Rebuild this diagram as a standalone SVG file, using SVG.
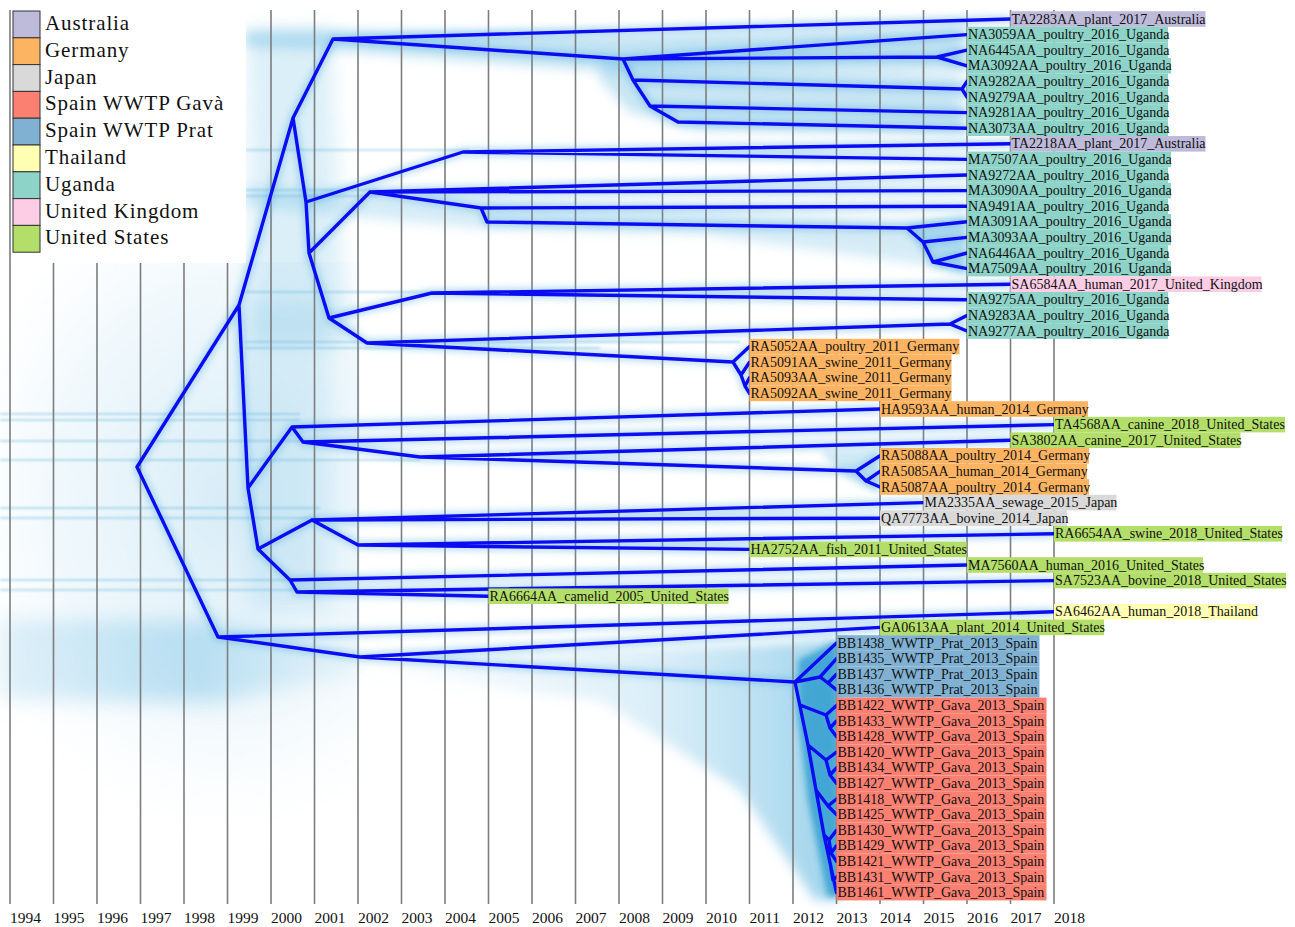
<svg xmlns="http://www.w3.org/2000/svg" xmlns:xlink="http://www.w3.org/1999/xlink" width="1295" height="927" viewBox="0 0 1295 927">
<style>
.grid{stroke:#7d7d7d;stroke-width:1.6}
.yr{font-family:"Liberation Serif","Times New Roman",serif;font-size:15.5px;fill:#111}
.lab{font-family:"Liberation Serif","Times New Roman",serif;font-size:14px;fill:#111}
.leg{font-family:"Liberation Serif","Times New Roman",serif;font-size:21px;letter-spacing:0.9px;fill:#111}
.sw{stroke:#333;stroke-width:1}
.au{fill:#bebada}.de{fill:#fdb462}.jp{fill:#d9d9d9}.gv{fill:#fb8072}.pr{fill:#80b1d3}.th{fill:#ffffb3}.ug{fill:#8dd3c7}.uk{fill:#fccde5}.us{fill:#b3de69}
.cl{fill:#74c0e4}
.st{stroke:#5cb4dc;stroke-width:2;fill:none}
</style>
<defs>
<filter id="b14" filterUnits="userSpaceOnUse" x="0" y="0" width="1295" height="927"><feGaussianBlur stdDeviation="14"/></filter>
<filter id="b10" filterUnits="userSpaceOnUse" x="0" y="0" width="1295" height="927"><feGaussianBlur stdDeviation="10"/></filter>
<filter id="b6" filterUnits="userSpaceOnUse" x="0" y="0" width="1295" height="927"><feGaussianBlur stdDeviation="6"/></filter>
<filter id="b3" filterUnits="userSpaceOnUse" x="0" y="0" width="1295" height="927"><feGaussianBlur stdDeviation="3"/></filter>
<filter id="b1" filterUnits="userSpaceOnUse" x="0" y="0" width="1295" height="927"><feGaussianBlur stdDeviation="1.2"/></filter>
<radialGradient id="lh" cx="230" cy="500" r="300" gradientUnits="userSpaceOnUse" gradientTransform="translate(230 500) scale(1 1.2) translate(-230 -500)">
<stop offset="0" stop-color="#a6d5ee" stop-opacity="0.45"/>
<stop offset="0.6" stop-color="#b8def1" stop-opacity="0.2"/>
<stop offset="1" stop-color="#ffffff" stop-opacity="0"/>
</radialGradient>
<linearGradient id="band" x1="0" y1="0" x2="1" y2="0">
<stop offset="0" stop-color="#a8d6ee" stop-opacity="0.35"/>
<stop offset="0.55" stop-color="#8ccbea" stop-opacity="0.55"/>
<stop offset="1" stop-color="#a8d6ee" stop-opacity="0.15"/>
</linearGradient>
<linearGradient id="fan" x1="0" y1="0" x2="1" y2="0">
<stop offset="0" stop-color="#9fd3ee" stop-opacity="0"/>
<stop offset="0.6" stop-color="#8ccbea" stop-opacity="0.3"/>
<stop offset="1" stop-color="#5db5df" stop-opacity="0.6"/>
</linearGradient>
</defs>
<rect width="1295" height="927" fill="#ffffff"/>

<g id="cloud">
<rect x="0" y="262" width="360" height="640" fill="url(#lh)"/>
<polygon points="0,618 218,622 360,648 360,672 218,702 0,700" fill="url(#band)" filter="url(#b10)"/>
<polygon points="360,655 560,650 760,645 838,640 838,900 815,900 740,790 600,700 360,672" fill="url(#fan)" filter="url(#b6)"/>
<polygon points="798,660 838,642 840,897 828,897 808,800 798,710" fill="#2c9bcd" opacity="0.8" filter="url(#b3)"/>
<polygon points="245,31 330,30 620,36 962,26 965,70 620,72 330,50 245,47" class="cl" opacity="0.45" filter="url(#b6)"/>
<polygon points="600,58 700,66 960,76 965,134 700,130 630,112 600,80" class="cl" opacity="0.4" filter="url(#b6)"/>
<polygon points="248,30 330,30 345,345 252,345" class="cl" opacity="0.25" filter="url(#b10)"/>
<polygon points="245,186 480,198 700,210 900,220 965,220 965,274 920,264 700,234 480,228 245,206" class="cl" opacity="0.3" filter="url(#b6)"/>
<polygon points="240,300 330,300 330,610 250,610" class="cl" opacity="0.18" filter="url(#b10)"/>
<polygon points="820,452 880,450 880,492 850,480" class="cl" opacity="0.35" filter="url(#b3)"/>
<polygon points="905,225 967,215 967,275 935,265" class="cl" opacity="0.35" filter="url(#b3)"/>
<g class="st" opacity="0.4" filter="url(#b1)">
<path d="M245,150H470M245,190H380M245,196H380M245,292H440M245,342H740M245,348H600"/>
<path d="M0,414H300M0,420H300M0,441H310M0,460H420M0,508H320M0,518H320M0,580H300M0,590H300"/>
</g>
</g>

<g id="grid">
<path class="grid" d="M10,10V904M53.5,10V904M97,10V904M140.5,10V904M184,10V904M227.5,10V904M271,10V904M314.5,10V904M358,10V904M401.5,10V904M445,10V904M488.5,10V904M532,10V904M575.5,10V904M619,10V904M662.5,10V904M706,10V904M749.5,10V904M793,10V904M836.5,10V904M880,10V904M923.5,10V904M967,10V904M1010.5,10V904M1054,10V904"/>
</g>

<use xlink:href="#tree" stroke="#4aa8e0" stroke-width="9" stroke-opacity="0.35" fill="none" filter="url(#b3)"/>

<g id="connectors" stroke="#0c0cf2" stroke-width="3.4" fill="none" stroke-linejoin="round" stroke-linecap="round">
<path id="tree" d="M137,467L239,305L293,118L333,39L1010.5,19M333,39L623,59L967,34.6M623,59L937,57L967,50.2M937,57L967,65.8M623,59L633,80L962,89L967,81.4M962,89L967,97M633,80L650,106L967,112.6M650,106L678,122L967,128.2M293,118L306,202L463,152L1010.5,143.8M463,152L967,159.4M306,202L309,253L370,192L967,175M370,192L967,190.6M370,192L481,208L967,206.2M481,208L487,222L907,228L967,221.8M907,228L923,242L967,237.4M923,242L933,262L967,253M933,262L967,268.6M309,253L329,318L432,293L1010.5,284.2M432,293L967,299.8M329,318L367,343L950,324L967,315.4M950,324L967,331M367,343L733,362L749.5,346.6M733,362L741,375L749.5,362.2M741,375L745,386L749.5,377.8M745,386L749.5,393.4M239,305L248,488L292,427L880,409M292,427L303,442L1054,424.6M303,442L420,457L1010.5,440.2M420,457L856,471L880,455.8M856,471L866,481L880,471.4M866,481L880,487M248,488L258,549L312,520L923.5,502.6M312,520L880,518.2M312,520L358,545L1054,533.8M358,545L749.5,549.4M258,549L290,580L967,565M290,580L297,592L1054,580.6M297,592L488.5,596.2M137,467L218,637L1054,611.8M218,637L360,657L880,627.4M360,657L795,682L836.5,643M795,682L820,677L836.5,658.6M820,677L828,683L836.5,674.2M828,683L836.5,689.8M795,682L808,745L816,790L824,835L836.5,892.6M800,705L826,715L836.5,705.4M826,715L830,728L836.5,721M830,728L836.5,736.6M808,745L826,760L836.5,752.2M826,760L830,775L836.5,767.8M830,775L836.5,783.4M816,790L828,806L836.5,799M828,806L836.5,814.6M824,835L829,840L836.5,830.2M829,840L831,853L836.5,845.8M831,853L836.5,861.4M831,868L833,880L836.5,877"/>
</g>

<g id="leaves">
<g id="n1"><rect class="au" x="1010.5" y="11.2" width="195" height="15.6"/><text class="lab" x="1011.5" y="23.5">TA2283AA_plant_2017_Australia</text></g>
<g id="n2"><rect class="ug" x="967" y="26.8" width="201" height="15.6"/><text class="lab" x="968" y="39.1">NA3059AA_poultry_2016_Uganda</text></g>
<g id="n3"><rect class="ug" x="967" y="42.4" width="201" height="15.6"/><text class="lab" x="968" y="54.7">NA6445AA_poultry_2016_Uganda</text></g>
<g id="n4"><rect class="ug" x="967" y="58" width="204" height="15.6"/><text class="lab" x="968" y="70.3">MA3092AA_poultry_2016_Uganda</text></g>
<g id="n5"><rect class="ug" x="967" y="73.6" width="201" height="15.6"/><text class="lab" x="968" y="85.9">NA9282AA_poultry_2016_Uganda</text></g>
<g id="n6"><rect class="ug" x="967" y="89.2" width="201" height="15.6"/><text class="lab" x="968" y="101.5">NA9279AA_poultry_2016_Uganda</text></g>
<g id="n7"><rect class="ug" x="967" y="104.8" width="201" height="15.6"/><text class="lab" x="968" y="117.1">NA9281AA_poultry_2016_Uganda</text></g>
<g id="n8"><rect class="ug" x="967" y="120.4" width="201" height="15.6"/><text class="lab" x="968" y="132.7">NA3073AA_poultry_2016_Uganda</text></g>
<g id="n9"><rect class="au" x="1010.5" y="136" width="195" height="15.6"/><text class="lab" x="1011.5" y="148.3">TA2218AA_plant_2017_Australia</text></g>
<g id="n10"><rect class="ug" x="967" y="151.6" width="204" height="15.6"/><text class="lab" x="968" y="163.9">MA7507AA_poultry_2016_Uganda</text></g>
<g id="n11"><rect class="ug" x="967" y="167.2" width="201" height="15.6"/><text class="lab" x="968" y="179.5">NA9272AA_poultry_2016_Uganda</text></g>
<g id="n12"><rect class="ug" x="967" y="182.8" width="204" height="15.6"/><text class="lab" x="968" y="195.1">MA3090AA_poultry_2016_Uganda</text></g>
<g id="n13"><rect class="ug" x="967" y="198.4" width="201" height="15.6"/><text class="lab" x="968" y="210.7">NA9491AA_poultry_2016_Uganda</text></g>
<g id="n14"><rect class="ug" x="967" y="214" width="204" height="15.6"/><text class="lab" x="968" y="226.3">MA3091AA_poultry_2016_Uganda</text></g>
<g id="n15"><rect class="ug" x="967" y="229.6" width="204" height="15.6"/><text class="lab" x="968" y="241.9">MA3093AA_poultry_2016_Uganda</text></g>
<g id="n16"><rect class="ug" x="967" y="245.2" width="201" height="15.6"/><text class="lab" x="968" y="257.5">NA6446AA_poultry_2016_Uganda</text></g>
<g id="n17"><rect class="ug" x="967" y="260.8" width="204" height="15.6"/><text class="lab" x="968" y="273.1">MA7509AA_poultry_2016_Uganda</text></g>
<g id="n18"><rect class="uk" x="1010.5" y="276.4" width="251" height="15.6"/><text class="lab" x="1011.5" y="288.7">SA6584AA_human_2017_United_Kingdom</text></g>
<g id="n19"><rect class="ug" x="967" y="292" width="201" height="15.6"/><text class="lab" x="968" y="304.3">NA9275AA_poultry_2016_Uganda</text></g>
<g id="n20"><rect class="ug" x="967" y="307.6" width="201" height="15.6"/><text class="lab" x="968" y="319.9">NA9283AA_poultry_2016_Uganda</text></g>
<g id="n21"><rect class="ug" x="967" y="323.2" width="201" height="15.6"/><text class="lab" x="968" y="335.5">NA9277AA_poultry_2016_Uganda</text></g>
<g id="n22"><rect class="de" x="749.5" y="338.8" width="210" height="15.6"/><text class="lab" x="750.5" y="351.1">RA5052AA_poultry_2011_Germany</text></g>
<g id="n23"><rect class="de" x="749.5" y="354.4" width="202" height="15.6"/><text class="lab" x="750.5" y="366.7">RA5091AA_swine_2011_Germany</text></g>
<g id="n24"><rect class="de" x="749.5" y="370" width="202" height="15.6"/><text class="lab" x="750.5" y="382.3">RA5093AA_swine_2011_Germany</text></g>
<g id="n25"><rect class="de" x="749.5" y="385.6" width="202" height="15.6"/><text class="lab" x="750.5" y="397.9">RA5092AA_swine_2011_Germany</text></g>
<g id="n26"><rect class="de" x="880" y="401.2" width="208" height="15.6"/><text class="lab" x="881" y="413.5">HA9593AA_human_2014_Germany</text></g>
<g id="n27"><rect class="us" x="1054" y="416.8" width="231" height="15.6"/><text class="lab" x="1055" y="429.1">TA4568AA_canine_2018_United_States</text></g>
<g id="n28"><rect class="us" x="1010.5" y="432.4" width="230" height="15.6"/><text class="lab" x="1011.5" y="444.7">SA3802AA_canine_2017_United_States</text></g>
<g id="n29"><rect class="de" x="880" y="448" width="209" height="15.6"/><text class="lab" x="881" y="460.3">RA5088AA_poultry_2014_Germany</text></g>
<g id="n30"><rect class="de" x="880" y="463.6" width="207" height="15.6"/><text class="lab" x="881" y="475.9">RA5085AA_human_2014_Germany</text></g>
<g id="n31"><rect class="de" x="880" y="479.2" width="209" height="15.6"/><text class="lab" x="881" y="491.5">RA5087AA_poultry_2014_Germany</text></g>
<g id="n32"><rect class="jp" x="923.5" y="494.8" width="193" height="15.6"/><text class="lab" x="924.5" y="507.1">MA2335AA_sewage_2015_Japan</text></g>
<g id="n33"><rect class="jp" x="880" y="510.4" width="187" height="15.6"/><text class="lab" x="881" y="522.7">QA7773AA_bovine_2014_Japan</text></g>
<g id="n34"><rect class="us" x="1054" y="526" width="228" height="15.6"/><text class="lab" x="1055" y="538.3">RA6654AA_swine_2018_United_States</text></g>
<g id="n35"><rect class="us" x="749.5" y="541.6" width="217" height="15.6"/><text class="lab" x="750.5" y="553.9">HA2752AA_fish_2011_United_States</text></g>
<g id="n36"><rect class="us" x="967" y="557.2" width="236" height="15.6"/><text class="lab" x="968" y="569.5">MA7560AA_human_2016_United_States</text></g>
<g id="n37"><rect class="us" x="1054" y="572.8" width="232" height="15.6"/><text class="lab" x="1055" y="585.1">SA7523AA_bovine_2018_United_States</text></g>
<g id="n38"><rect class="us" x="488.5" y="588.4" width="240" height="15.6"/><text class="lab" x="489.5" y="600.7">RA6664AA_camelid_2005_United_States</text></g>
<g id="n39"><rect class="th" x="1054" y="604" width="203" height="15.6"/><text class="lab" x="1055" y="616.3">SA6462AA_human_2018_Thailand</text></g>
<g id="n40"><rect class="us" x="880" y="619.6" width="224" height="15.6"/><text class="lab" x="881" y="631.9">GA0613AA_plant_2014_United_States</text></g>
<g id="n41"><rect class="pr" x="836.5" y="635.2" width="203" height="15.6"/><text class="lab" x="837.5" y="647.5">BB1438_WWTP_Prat_2013_Spain</text></g>
<g id="n42"><rect class="pr" x="836.5" y="650.8" width="203" height="15.6"/><text class="lab" x="837.5" y="663.1">BB1435_WWTP_Prat_2013_Spain</text></g>
<g id="n43"><rect class="pr" x="836.5" y="666.4" width="203" height="15.6"/><text class="lab" x="837.5" y="678.7">BB1437_WWTP_Prat_2013_Spain</text></g>
<g id="n44"><rect class="pr" x="836.5" y="682" width="203" height="15.6"/><text class="lab" x="837.5" y="694.3">BB1436_WWTP_Prat_2013_Spain</text></g>
<g id="n45"><rect class="gv" x="836.5" y="697.6" width="210" height="15.6"/><text class="lab" x="837.5" y="709.9">BB1422_WWTP_Gava_2013_Spain</text></g>
<g id="n46"><rect class="gv" x="836.5" y="713.2" width="210" height="15.6"/><text class="lab" x="837.5" y="725.5">BB1433_WWTP_Gava_2013_Spain</text></g>
<g id="n47"><rect class="gv" x="836.5" y="728.8" width="210" height="15.6"/><text class="lab" x="837.5" y="741.1">BB1428_WWTP_Gava_2013_Spain</text></g>
<g id="n48"><rect class="gv" x="836.5" y="744.4" width="210" height="15.6"/><text class="lab" x="837.5" y="756.7">BB1420_WWTP_Gava_2013_Spain</text></g>
<g id="n49"><rect class="gv" x="836.5" y="760" width="210" height="15.6"/><text class="lab" x="837.5" y="772.3">BB1434_WWTP_Gava_2013_Spain</text></g>
<g id="n50"><rect class="gv" x="836.5" y="775.6" width="210" height="15.6"/><text class="lab" x="837.5" y="787.9">BB1427_WWTP_Gava_2013_Spain</text></g>
<g id="n51"><rect class="gv" x="836.5" y="791.2" width="210" height="15.6"/><text class="lab" x="837.5" y="803.5">BB1418_WWTP_Gava_2013_Spain</text></g>
<g id="n52"><rect class="gv" x="836.5" y="806.8" width="210" height="15.6"/><text class="lab" x="837.5" y="819.1">BB1425_WWTP_Gava_2013_Spain</text></g>
<g id="n53"><rect class="gv" x="836.5" y="822.4" width="210" height="15.6"/><text class="lab" x="837.5" y="834.7">BB1430_WWTP_Gava_2013_Spain</text></g>
<g id="n54"><rect class="gv" x="836.5" y="838" width="210" height="15.6"/><text class="lab" x="837.5" y="850.3">BB1429_WWTP_Gava_2013_Spain</text></g>
<g id="n55"><rect class="gv" x="836.5" y="853.6" width="210" height="15.6"/><text class="lab" x="837.5" y="865.9">BB1421_WWTP_Gava_2013_Spain</text></g>
<g id="n56"><rect class="gv" x="836.5" y="869.2" width="210" height="15.6"/><text class="lab" x="837.5" y="881.5">BB1431_WWTP_Gava_2013_Spain</text></g>
<g id="n57"><rect class="gv" x="836.5" y="884.8" width="210" height="15.6"/><text class="lab" x="837.5" y="897.1">BB1461_WWTP_Gava_2013_Spain</text></g>
</g>

<g id="legend">
<rect x="11" y="0" width="235" height="263" fill="#ffffff"/>
<rect class="sw au" x="13" y="11" width="27" height="26.8"/>
<rect class="sw de" x="13" y="37.8" width="27" height="26.8"/>
<rect class="sw jp" x="13" y="64.6" width="27" height="26.8"/>
<rect class="sw gv" x="13" y="91.4" width="27" height="26.8"/>
<rect class="sw pr" x="13" y="118.2" width="27" height="26.8"/>
<rect class="sw th" x="13" y="145" width="27" height="26.8"/>
<rect class="sw ug" x="13" y="171.8" width="27" height="26.8"/>
<rect class="sw uk" x="13" y="198.6" width="27" height="26.8"/>
<rect class="sw us" x="13" y="225.4" width="27" height="26.8"/>
<text class="leg" x="45" y="30">Australia</text>
<text class="leg" x="45" y="56.8">Germany</text>
<text class="leg" x="45" y="83.6">Japan</text>
<text class="leg" x="45" y="110.4">Spain WWTP Gavà</text>
<text class="leg" x="45" y="137.2">Spain WWTP Prat</text>
<text class="leg" x="45" y="164">Thailand</text>
<text class="leg" x="45" y="190.8">Uganda</text>
<text class="leg" x="45" y="217.6">United Kingdom</text>
<text class="leg" x="45" y="244.4">United States</text>
</g>

<g id="axis">
<text class="yr" x="10" y="923">1994</text>
<text class="yr" x="53.5" y="923">1995</text>
<text class="yr" x="97" y="923">1996</text>
<text class="yr" x="140.5" y="923">1997</text>
<text class="yr" x="184" y="923">1998</text>
<text class="yr" x="227.5" y="923">1999</text>
<text class="yr" x="271" y="923">2000</text>
<text class="yr" x="314.5" y="923">2001</text>
<text class="yr" x="358" y="923">2002</text>
<text class="yr" x="401.5" y="923">2003</text>
<text class="yr" x="445" y="923">2004</text>
<text class="yr" x="488.5" y="923">2005</text>
<text class="yr" x="532" y="923">2006</text>
<text class="yr" x="575.5" y="923">2007</text>
<text class="yr" x="619" y="923">2008</text>
<text class="yr" x="662.5" y="923">2009</text>
<text class="yr" x="706" y="923">2010</text>
<text class="yr" x="749.5" y="923">2011</text>
<text class="yr" x="793" y="923">2012</text>
<text class="yr" x="836.5" y="923">2013</text>
<text class="yr" x="880" y="923">2014</text>
<text class="yr" x="923.5" y="923">2015</text>
<text class="yr" x="967" y="923">2016</text>
<text class="yr" x="1010.5" y="923">2017</text>
<text class="yr" x="1054" y="923">2018</text>
</g>
</svg>
